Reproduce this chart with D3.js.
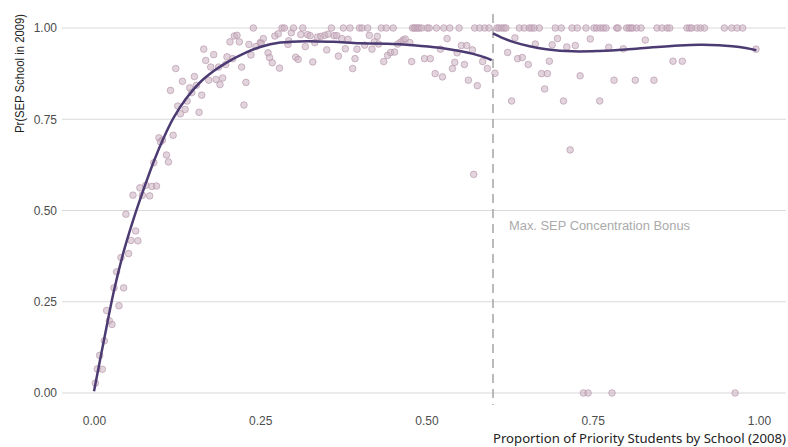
<!DOCTYPE html>
<html>
<head>
<meta charset="utf-8">
<script src="https://cdn.jsdelivr.net/npm/d3@7"></script>
<style>
  html, body { margin: 0; padding: 0; background: #fff; }
  svg { display: block; }
</style>
</head>
<body>
<svg id="chart" width="788" height="447"></svg>
<script>
// School-level share of priority students (2008) and SEP participation (2009)
const schoolShare = [
  0.002, 0.005, 0.0125, 0.0085, 0.0155, 0.019, 0.023, 0.027, 0.030, 0.0446,
  0.034, 0.0376, 0.0406, 0.048, 0.052, 0.0556, 0.066, 0.0627, 0.0586, 0.0727,
  0.0837, 0.069, 0.078, 0.087, 0.094, 0.09, 0.0977, 0.103, 0.1, 0.109,
  0.112, 0.119, 0.115, 0.123, 0.126, 0.130, 0.133, 0.137, 0.140, 0.144,
  0.147, 0.151, 0.154, 0.158, 0.162, 0.165, 0.168, 0.1725, 0.1755, 0.18,
  0.1835, 0.1875, 0.1895, 0.1935, 0.198, 0.20, 0.2045, 0.2085, 0.211, 0.215,
  0.2185, 0.222, 0.2255, 0.2285, 0.233, 0.236, 0.2396, 0.2436, 0.25, 0.2516,
  0.2546, 0.2617, 0.264, 0.268, 0.272, 0.277, 0.279, 0.2827, 0.2862, 0.2917,
  0.2928, 0.2967, 0.30, 0.3033, 0.307, 0.311, 0.314, 0.3178, 0.321, 0.325,
  0.329, 0.332, 0.336, 0.341, 0.347, 0.352, 0.35, 0.357, 0.361, 0.365,
  0.3675, 0.3725, 0.375, 0.378, 0.382, 0.385, 0.389, 0.3925, 0.3955, 0.399,
  0.403, 0.4116, 0.432, 0.4395, 0.45, 0.479, 0.4815, 0.484, 0.4867, 0.489,
  0.4925, 0.501, 0.504, 0.515, 0.526, 0.535, 0.549, 0.5725, 0.58, 0.5875,
  0.594, 0.606, 0.407, 0.414, 0.418, 0.4215, 0.426, 0.428, 0.4357, 0.4415,
  0.446, 0.452, 0.4567, 0.4617, 0.465, 0.468, 0.475, 0.4777, 0.497, 0.5057,
  0.513, 0.524, 0.521, 0.531, 0.539, 0.5425, 0.546, 0.5524, 0.5604, 0.557,
  0.563, 0.569, 0.5764, 0.571, 0.5845, 0.5915, 0.603,
  0.609, 0.613, 0.6165, 0.6195, 0.6395, 0.647, 0.6546, 0.658, 0.662, 0.6696,
  0.6937, 0.7027, 0.7188, 0.7268, 0.7398, 0.7519, 0.756, 0.7614, 0.7659, 0.77,
  0.786, 0.788, 0.801, 0.8045, 0.8075, 0.81, 0.816, 0.8226, 0.8466, 0.8541,
  0.8617, 0.8657, 0.8917, 0.8957, 0.8987, 0.9067, 0.912, 0.918, 0.948, 0.959,
  0.967, 0.9755,
  0.622, 0.633, 0.628, 0.637, 0.644, 0.653, 0.6636, 0.673, 0.6817, 0.6777,
  0.6847, 0.689, 0.697, 0.706, 0.711, 0.716, 0.7238, 0.731, 0.7463, 0.7605,
  0.774, 0.782, 0.796, 0.814, 0.829, 0.8707, 0.8847, 0.842, 0.9955,
  0.736, 0.743, 0.779, 0.964
];
const sepRate = [
  0.027, 0.066, 0.065, 0.103, 0.143, 0.226, 0.198, 0.188, 0.288, 0.288,
  0.332, 0.239, 0.371, 0.49, 0.382, 0.418, 0.417, 0.444, 0.542, 0.542,
  0.54, 0.562, 0.569, 0.566, 0.567, 0.631, 0.699, 0.693, 0.688, 0.652,
  0.633, 0.706, 0.829, 0.889, 0.786, 0.765, 0.854, 0.777, 0.80, 0.836,
  0.823, 0.867, 0.843, 0.769, 0.816, 0.942, 0.911, 0.857, 0.893, 0.927,
  0.859, 0.893, 0.845, 0.863, 0.90, 0.921, 0.962, 0.916, 0.978, 0.98,
  0.962, 0.893, 0.789, 0.851, 0.955, 0.926, 1.0, 0.949, 0.96, 0.958,
  0.971, 0.932, 0.919, 0.905, 0.978, 0.984, 0.89, 1.0, 1.0, 0.955,
  0.965, 0.987, 1.0, 0.92, 0.914, 0.982, 1.0, 0.949, 0.982, 0.979,
  0.907, 0.96, 0.975, 0.977, 0.98, 0.983, 0.94, 1.0, 0.979, 0.979,
  0.923, 0.971, 1.0, 0.943, 0.969, 1.0, 0.889, 0.916, 0.942, 1.0,
  1.0, 1.0, 1.0, 1.0, 1.0, 1.0, 1.0, 1.0, 1.0, 1.0,
  1.0, 1.0, 1.0, 1.0, 1.0, 1.0, 1.0, 1.0, 1.0, 1.0,
  1.0, 1.0, 0.953, 0.98, 0.942, 0.962, 0.977, 0.956, 0.908, 0.925,
  0.933, 0.934, 0.956, 0.962, 0.967, 0.97, 0.96, 0.908, 0.916, 0.916,
  0.875, 0.866, 0.942, 0.971, 0.889, 0.906, 0.932, 0.952, 0.952, 0.90,
  0.857, 0.94, 0.842, 0.599, 0.908, 0.889, 0.876,
  1.0, 1.0, 1.0, 1.0, 1.0, 1.0, 1.0, 1.0, 1.0, 1.0,
  1.0, 1.0, 1.0, 1.0, 1.0, 1.0, 1.0, 1.0, 1.0, 1.0,
  1.0, 1.0, 1.0, 1.0, 1.0, 1.0, 1.0, 1.0, 1.0, 1.0,
  1.0, 1.0, 1.0, 1.0, 1.0, 1.0, 1.0, 1.0, 1.0, 1.0,
  1.0, 1.0,
  0.933, 0.973, 0.80, 0.916, 0.919, 0.90, 0.956, 0.875, 0.875, 0.833,
  0.909, 0.954, 0.971, 0.80, 0.948, 0.666, 0.952, 0.869, 0.97, 0.80,
  0.947, 0.857, 0.943, 0.857, 0.967, 0.909, 0.909, 0.857, 0.942,
  0, 0, 0, 0
];

// Smoothed fits on each side of the bonus cutoff
const fitLeftX = [0, 0.015, 0.03, 0.045, 0.06, 0.075, 0.09, 0.105, 0.12, 0.14,
  0.16, 0.18, 0.2, 0.225, 0.25, 0.28, 0.32, 0.36, 0.40, 0.44, 0.48, 0.52, 0.55,
  0.57, 0.59, 0.598];
const fitLeftY = [0.005, 0.145, 0.28, 0.39, 0.48, 0.56, 0.635, 0.70, 0.755, 0.81,
  0.852, 0.882, 0.906, 0.93, 0.948, 0.96, 0.964, 0.962, 0.958, 0.957, 0.953, 0.946,
  0.937, 0.929, 0.918, 0.912];
const fitRightX = [0.6, 0.615, 0.63, 0.655, 0.68, 0.72, 0.76, 0.8, 0.84, 0.88,
  0.91, 0.94, 0.96, 0.98, 0.996];
const fitRightY = [0.985, 0.972, 0.962, 0.95, 0.942, 0.936, 0.937, 0.941, 0.947,
  0.952, 0.954, 0.953, 0.95, 0.945, 0.939];

const cutoff = 0.6;
const xTicks = [0, 0.25, 0.5, 0.75, 1];
const yTicks = [0, 0.25, 0.5, 0.75, 1];
const xTickLabels = ["0.00", "0.25", "0.50", "0.75", "1.00"];
const yTickLabels = ["0.00", "0.25", "0.50", "0.75", "1.00"];
const cutoffLabel = "Max. SEP Concentration Bonus";
const xTitle = "Proportion of Priority Students by School (2008)";
const yTitle = "Pr(SEP School in 2009)";

const svg = d3.select("#chart");
const panel = { left: 62, right: 786, top: 10, bottom: 411 };

const x = d3.scaleLinear().domain([0, 1]).range([94, 759]);
const y = d3.scaleLinear().domain([0, 1]).range([393, 28]);

// Horizontal grid
svg.append("g")
  .selectAll("line")
  .data(yTicks)
  .join("line")
  .attr("x1", panel.left).attr("x2", panel.right)
  .attr("y1", d => y(d)).attr("y2", d => y(d))
  .attr("stroke", "#d9d9d9").attr("stroke-width", 1);

// Y axis labels
const yAxis = d3.axisLeft(y).tickValues(yTicks)
  .tickFormat((d, i) => yTickLabels[i]).tickSize(0).tickPadding(5);
const gy = svg.append("g").attr("transform", `translate(${panel.left},0)`).call(yAxis);
gy.select(".domain").remove();
gy.selectAll("text").attr("fill", "#4d4d4d")
  .style("font-family", "'Liberation Sans', Arial, sans-serif").style("font-size", "12px");

// X axis labels
const xAxis = d3.axisBottom(x).tickValues(xTicks)
  .tickFormat((d, i) => xTickLabels[i]).tickSize(0).tickPadding(5);
const gx = svg.append("g").attr("transform", `translate(0,${panel.bottom})`).call(xAxis);
gx.select(".domain").remove();
gx.selectAll("text").attr("fill", "#4d4d4d")
  .style("font-family", "'Liberation Sans', Arial, sans-serif").style("font-size", "12px");

// Cutoff marker
svg.append("line")
  .attr("x1", x(cutoff)).attr("x2", x(cutoff))
  .attr("y1", panel.top + 4).attr("y2", panel.bottom - 6)
  .attr("stroke", "#aaaaaa").attr("stroke-width", 1.6)
  .attr("stroke-dasharray", "9,6");

svg.append("text")
  .attr("x", x(cutoff) + 16).attr("y", 230)
  .attr("fill", "#aaaaaa")
  .style("font-family", "'Liberation Sans', Arial, sans-serif")
  .style("font-size", "12.5px")
  .attr("textLength", 181).attr("lengthAdjust", "spacingAndGlyphs")
  .text(cutoffLabel);

// Schools
const pts = schoolShare.map((v, i) => ({ s: v, r: sepRate[i] }));
svg.append("g")
  .selectAll("circle")
  .data(pts)
  .join("circle")
  .attr("cx", d => x(d.s)).attr("cy", d => y(d.r))
  .attr("r", 3.3)
  .attr("fill", "#cbb0c1").attr("fill-opacity", 0.55)
  .attr("stroke", "#b897ab").attr("stroke-opacity", 0.75)
  .attr("stroke-width", 0.9);

// Fitted curves
const line = d3.line().x(d => x(d[0])).y(d => y(d[1])).curve(d3.curveCatmullRom.alpha(0.5));
svg.append("path")
  .datum(fitLeftX.map((v, i) => [v, fitLeftY[i]]))
  .attr("d", line).attr("fill", "none")
  .attr("stroke", "#4b3b72").attr("stroke-width", 2.5);
svg.append("path")
  .datum(fitRightX.map((v, i) => [v, fitRightY[i]]))
  .attr("d", line).attr("fill", "none")
  .attr("stroke", "#4b3b72").attr("stroke-width", 2.5);

// Axis titles
svg.append("text")
  .attr("x", 786).attr("y", 443)
  .attr("text-anchor", "end")
  .attr("fill", "#222")
  .style("font-family", "'Noto Sans', sans-serif")
  .style("font-size", "13px")
  .attr("textLength", 293).attr("lengthAdjust", "spacingAndGlyphs")
  .text(xTitle);

svg.append("text")
  .attr("transform", "translate(24,14) rotate(-90)")
  .attr("text-anchor", "end")
  .attr("fill", "#222")
  .style("font-family", "'Liberation Sans', Arial, sans-serif")
  .style("font-size", "12px")
  .attr("textLength", 119).attr("lengthAdjust", "spacingAndGlyphs")
  .text(yTitle);
</script>
</body>
</html>
